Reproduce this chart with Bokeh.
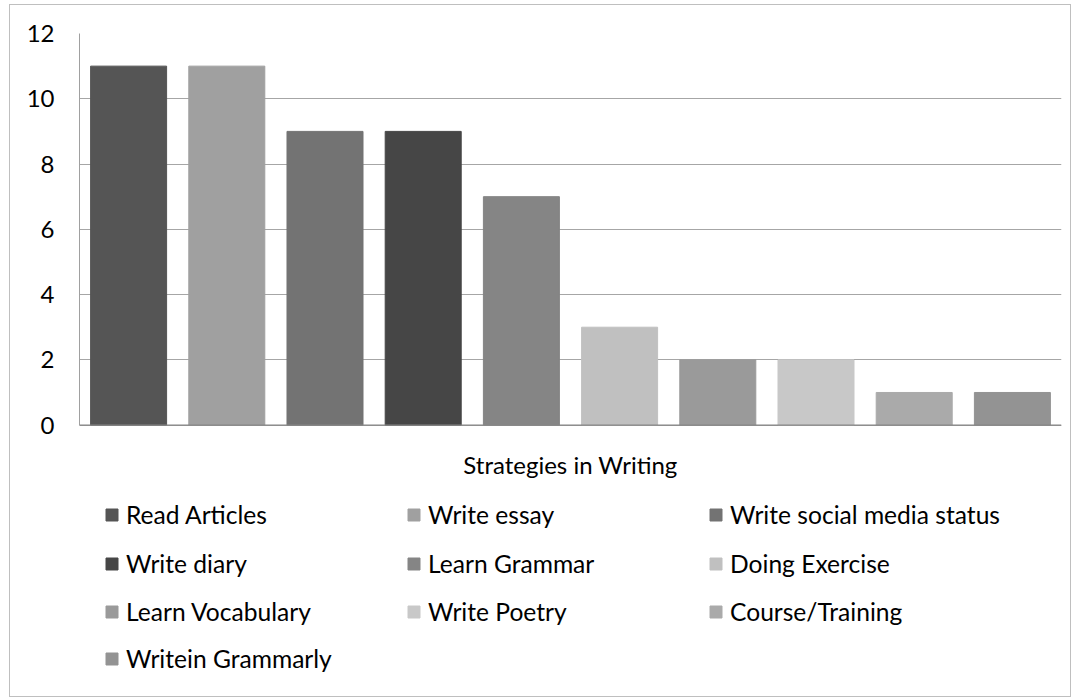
from bokeh.plotting import figure
from bokeh.models import (ColumnDataSource, Legend, LegendItem, FactorRange, FixedTicker,
                          Span, Label, Range1d)
from bokeh.embed import file_html
from bokeh.resources import INLINE

categories = ["Read Articles", "Write essay", "Write social media status", "Write diary",
              "Learn Grammar", "Doing Exercise", "Learn Vocabulary", "Write Poetry",
              "Course/Training", "Writein Grammarly"]
values = [11, 11, 9, 9, 7, 3, 2, 2, 1, 1]
colors = ["#555555", "#A0A0A0", "#737373", "#464646", "#858585",
          "#C0C0C0", "#9A9A9A", "#C8C8C8", "#AAAAAA", "#939393"]
y_ticks = [0, 2, 4, 6, 8, 10, 12]
x_title = "Strategies in Writing"

FONT = "Lato"
FS = "24px"
LFS = "24.6px"

src = ColumnDataSource(dict(cat=categories, val=values, col=colors))

# frame extends below the value axis so the legend can sit underneath the bars
p = figure(x_range=FactorRange(*categories, range_padding=0), y_range=Range1d(-8.102, 12),
           frame_width=982, frame_height=656, output_backend="svg", toolbar_location=None,
           min_border_left=69, min_border_right=9, min_border_top=28, min_border_bottom=7)
p.styles = {"border": "1px solid #BFBFBF", "margin": "4px 0 0 9px"}
p.outline_line_color = None
p.x_range.factor_padding = 0
p.x_range.range_padding = 0

r = p.vbar(x="cat", top="val", width=0.774, color="col", source=src)

p.yaxis.ticker = FixedTicker(ticks=y_ticks)
p.yaxis.bounds = (y_ticks[0], y_ticks[-1])
p.yaxis.major_tick_line_color = None
p.yaxis.minor_tick_line_color = None
p.yaxis.axis_line_color = "#A0A0A0"
p.yaxis.major_label_text_font = FONT
p.yaxis.major_label_text_font_size = FS
p.yaxis.major_label_text_color = "#000000"
p.yaxis.major_label_standoff = 19

p.xaxis.visible = False
p.xgrid.grid_line_color = None
p.ygrid.grid_line_color = "#A6A6A6"

p.add_layout(Span(location=0, dimension="width", line_color="#868686", line_width=1.2))
p.add_layout(Label(x=len(categories) / 2, y=-1.2, text=x_title, text_align="center",
                   text_baseline="middle", text_font=FONT, text_font_size=FS,
                   text_color="#000000"))

row_offsets = [151, 102, 54, 7]
for row in range(4):
    items = [LegendItem(label=categories[i], renderers=[r], index=i)
             for i in range(row * 3, min(row * 3 + 3, len(categories)))]
    lg = Legend(items=items, orientation="horizontal",
                location=(25, row_offsets[row]), padding=0, margin=0, border_line_color=None,
                background_fill_alpha=0,
                glyph_width=15, glyph_height=15, label_standoff=7, spacing=0,
                label_width=280, label_height=48,
                label_text_font=FONT, label_text_font_size=LFS, label_text_color="#000000")
    p.add_layout(lg, "center")

open("out.html", "w").write(file_html(p, INLINE))
